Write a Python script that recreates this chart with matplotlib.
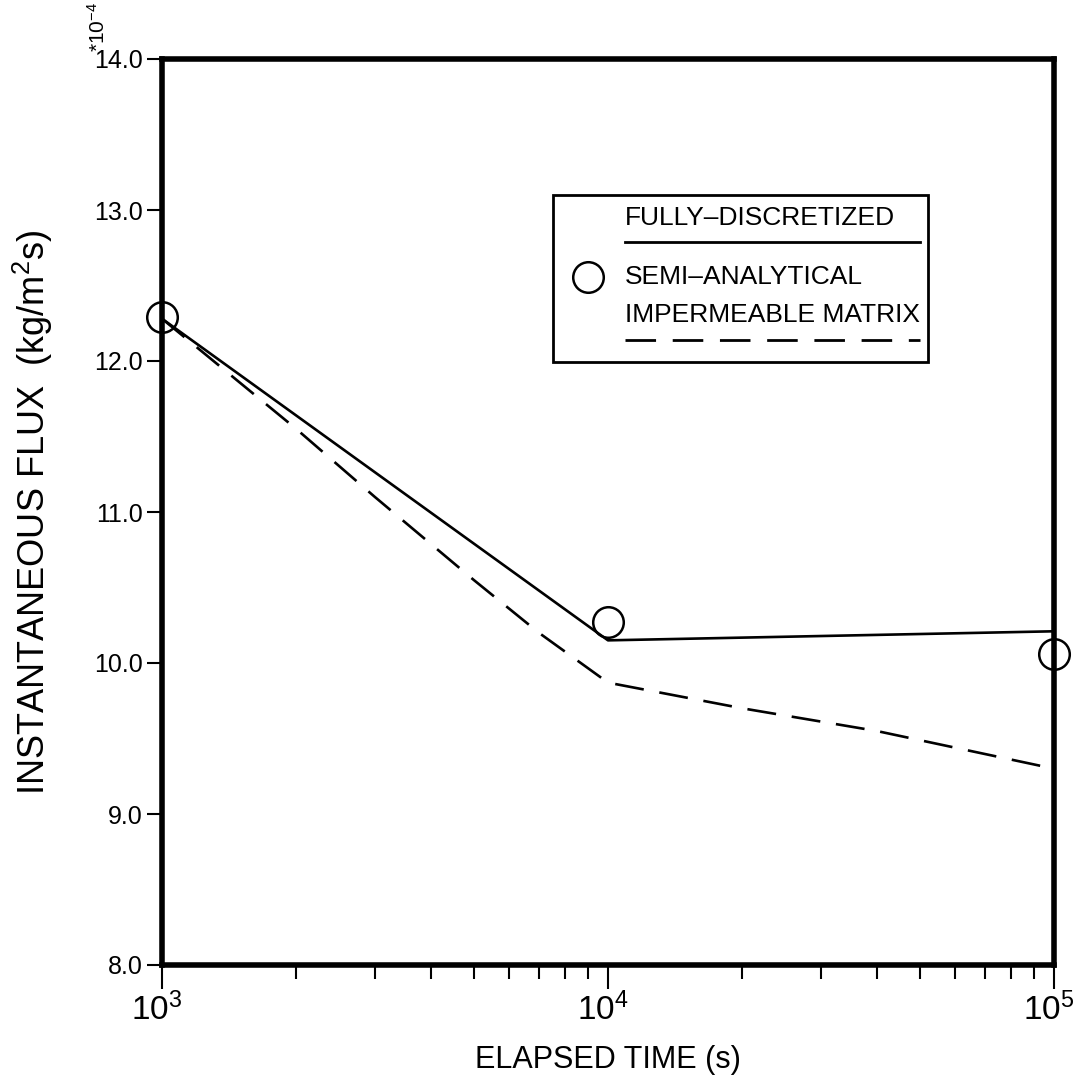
import math
import matplotlib
matplotlib.use("Agg")
import matplotlib.pyplot as plt
from matplotlib.ticker import FixedLocator, FuncFormatter, LogLocator, NullFormatter
from matplotlib.lines import Line2D
from matplotlib.transforms import ScaledTranslation

# ---------------- data ----------------
time_full = [1e3, 1e4, 1e5]
flux_full = [12.28, 10.15, 10.21]

time_semi = [1e3, 1e4, 1e5]
flux_semi = [12.29, 10.27, 10.06]

time_imp = [1e3, 2e3, 3e3, 5e3, 7e3, 1e4, 2e4, 4e4, 1e5]
flux_imp = [12.28, 11.55, 11.10, 10.55, 10.20, 9.87, 9.70, 9.55, 9.30]

yticks = [8.0, 9.0, 10.0, 11.0, 12.0, 13.0, 14.0]
xticks = [1e3, 1e4, 1e5]

legend_labels = ["FULLY\u2013DISCRETIZED", "SEMI\u2013ANALYTICAL", "IMPERMEABLE MATRIX"]

# ---------------- font ----------------
fam = "Liberation Sans"
plt.rcParams['font.family'] = [fam, 'DejaVu Sans']
plt.rcParams['mathtext.fontset'] = 'custom'
plt.rcParams['mathtext.rm'] = fam
plt.rcParams['mathtext.it'] = fam

fig = plt.figure(figsize=(10.78, 10.88), dpi=100)
ax = fig.add_axes([162/1078, 1-965/1088, 892/1078, 906/1088])

DASH = (0, (11, 6))
ax.plot(time_full, flux_full, color='black', lw=1.9, solid_capstyle='butt')
ax.plot(time_imp, flux_imp, color='black', lw=1.9, linestyle=DASH)
ax.plot(time_semi, flux_semi, linestyle='none', marker='o', markersize=22,
        markerfacecolor='none', markeredgecolor='black', markeredgewidth=1.8,
        clip_on=False, zorder=5)

ax.set_xscale('log')
ax.set_xlim(1e3, 1e5)
ax.set_ylim(8.0, 14.0)

ax.xaxis.set_major_locator(FixedLocator(xticks))
ax.xaxis.set_minor_locator(LogLocator(base=10, subs=range(2, 10)))
ax.xaxis.set_minor_formatter(NullFormatter())
ax.xaxis.set_major_formatter(FuncFormatter(
    lambda v, p: r'$\mathregular{10^{%d}}$' % round(math.log10(v))))
ax.yaxis.set_major_locator(FixedLocator(yticks))
ax.yaxis.set_major_formatter(FuncFormatter(lambda v, p: '%.1f' % v))

ax.tick_params(axis='x', which='major', direction='out', length=17, width=1.5,
               labelsize=24, pad=3)
ax.tick_params(axis='x', which='minor', direction='out', length=10, width=1.5)
ax.tick_params(axis='y', which='major', direction='out', length=11, width=1.5,
               labelsize=18, pad=3)

for s in ax.spines.values():
    s.set_linewidth(4.0)

ax.set_xlabel('ELAPSED TIME (s)', fontsize=22, labelpad=13)
ax.set_ylabel(r'INSTANTANEOUS FLUX  (kg/m$\mathregular{^2}$s)', fontsize=26, labelpad=28)

fig.canvas.draw()
off = ScaledTranslation(-5/100, 0, fig.dpi_scale_trans)
for lbl in ax.get_xticklabels():
    lbl.set_transform(lbl.get_transform() + off)

fig.text(98/1078, 1-2/1088, r'*10$\mathregular{^{-4}}$', rotation=90,
         fontsize=15, ha='center', va='top')

# ---------------- legend (drawn manually) ----------------
def fx(px):
    return (px - 162) / 892

def fy(py):
    return (965 - py) / 906

box = plt.Rectangle((fx(553), fy(362)), fx(928) - fx(553), fy(195) - fy(362),
                    transform=ax.transAxes, fill=False, edgecolor='black', lw=2.0)
ax.add_patch(box)
ax.text(fx(625), fy(218), legend_labels[0], transform=ax.transAxes,
        fontsize=19, ha='left', va='center')
ax.add_line(Line2D([fx(625), fx(920)], [fy(242), fy(242)], transform=ax.transAxes,
                   color='black', lw=2.0))
ax.add_line(Line2D([fx(588)], [fy(277)], transform=ax.transAxes, marker='o',
                   markersize=22, markerfacecolor='none', markeredgecolor='black',
                   markeredgewidth=1.8))
ax.text(fx(625), fy(277), legend_labels[1], transform=ax.transAxes,
        fontsize=19, ha='left', va='center')
ax.text(fx(625), fy(315), legend_labels[2], transform=ax.transAxes,
        fontsize=19, ha='left', va='center')
ax.add_line(Line2D([fx(625), fx(920)], [fy(340), fy(340)], transform=ax.transAxes,
                   color='black', lw=2.0, linestyle=DASH))

fig.savefig('out.png', dpi=100, facecolor='white')
